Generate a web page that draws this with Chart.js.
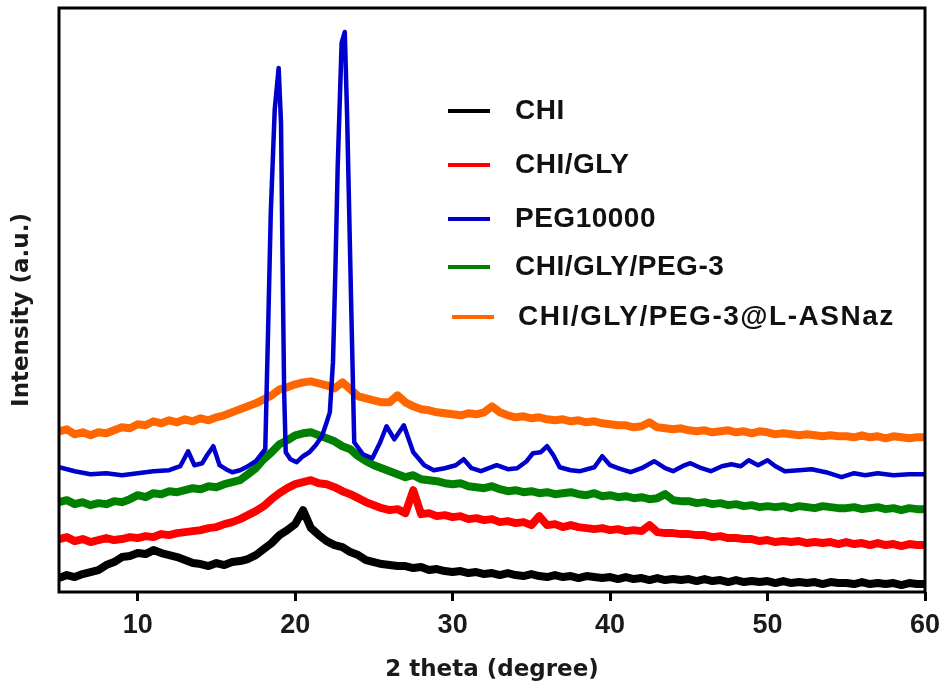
<!DOCTYPE html>
<html>
<head>
<meta charset="utf-8">
<script src="https://cdn.jsdelivr.net/npm/chart.js@4/dist/chart.umd.min.js"></script>
<style>
  html, body { margin: 0; padding: 0; background: #fff; }
  #wrap { width: 946px; height: 691px; }
</style>
</head>
<body>
<div id="wrap"><canvas id="xrd"></canvas></div>
<script>
// 2 theta grid shared by the noisy traces (0.5 degree steps)
const angles = [
  5, 5.5, 6, 6.5, 7, 7.5, 8, 8.5, 9, 9.5,
  10, 10.5, 11, 11.5, 12, 12.5, 13, 13.5, 14, 14.5,
  15, 15.5, 16, 16.5, 17, 17.5, 18, 18.5, 19, 19.5,
  20, 20.5, 21, 21.5, 22, 22.5, 23, 23.5, 24, 24.5,
  25, 25.5, 26, 26.5, 27, 27.5, 28, 28.5, 29, 29.5,
  30, 30.5, 31, 31.5, 32, 32.5, 33, 33.5, 34, 34.5,
  35, 35.5, 36, 36.5, 37, 37.5, 38, 38.5, 39, 39.5,
  40, 40.5, 41, 41.5, 42, 42.5, 43, 43.5, 44, 44.5,
  45, 45.5, 46, 46.5, 47, 47.5, 48, 48.5, 49, 49.5,
  50, 50.5, 51, 51.5, 52, 52.5, 53, 53.5, 54, 54.5,
  55, 55.5, 56, 56.5, 57, 57.5, 58, 58.5, 59, 59.5,
  60
];

// intensities (a.u., curves already offset as in the figure)
const chi = [
  14, 17, 15, 18, 20, 22, 27, 30, 35, 36,
  39, 38, 42, 39, 37, 35, 32, 29, 28, 26,
  29, 27, 30, 31, 33, 37, 43, 49, 57, 62,
  68, 82, 64, 57, 51, 47, 45, 40, 37, 32,
  30, 28, 27, 26, 26, 24, 25, 22, 23, 21,
  20, 21, 19, 20, 18, 19, 17, 19, 17, 16,
  18, 16, 15, 17, 15, 16, 14, 16, 15, 14,
  15, 13, 15, 13, 14, 12, 14, 12, 13, 12,
  13, 11, 13, 11, 12, 10, 12, 10, 11, 10,
  11, 9, 11, 9, 10, 9, 10, 8, 10, 9,
  9, 8, 10, 8, 9, 8, 9, 7, 9, 8,
  8
];

const chiGly = [
  53, 55, 51, 53, 50, 52, 54, 52, 53, 55,
  54, 56, 55, 58, 57, 59, 60, 61, 62, 64,
  65, 68, 70, 73, 77, 81, 86, 93, 99, 104,
  108, 110, 112, 109, 108, 105, 101, 98, 94, 90,
  87, 84, 82, 83, 79, 102, 78, 79, 76, 77,
  75, 76, 73, 74, 72, 73, 70, 71, 69, 70,
  67, 76, 67, 68, 65, 67, 65, 64, 63, 64,
  62, 63, 61, 62, 61, 67, 60, 59, 59, 58,
  58, 57, 57, 55, 56, 54, 54, 53, 53, 51,
  52, 50, 51, 50, 51, 49, 50, 49, 50, 48,
  50, 48, 49, 47, 49, 47, 48, 46, 48, 47,
  47
];

const chiGlyPeg = [
  90, 92, 88, 90, 87, 89, 88, 91, 90, 93,
  97, 95, 99, 98, 101, 100, 102, 104, 103, 106,
  105, 108, 110, 112, 118, 124, 133, 140, 148, 152,
  157, 159, 160, 157, 154, 151, 146, 143, 136, 131,
  127, 124, 121, 118, 115, 117, 113, 112, 111, 109,
  108, 109, 106, 105, 104, 106, 103, 101, 102, 100,
  101, 99, 100, 98, 99, 100, 98, 97, 99, 96,
  97, 95, 96, 94, 95, 93, 94, 98, 92, 91,
  91, 89, 90, 88, 89, 87, 88, 86, 87, 85,
  86, 85, 86, 84, 86, 85, 84, 86, 85, 84,
  84, 85, 83, 84, 85, 83, 84, 82, 84, 83,
  83
];

const asnaz = [
  161, 163, 158, 160, 157, 160, 159, 162, 165, 164,
  168, 167, 171, 169, 172, 170, 173, 171, 174, 172,
  175, 177, 180, 183, 186, 189, 193, 197, 203, 205,
  208, 210, 211, 209, 207, 204, 210, 203, 196, 194,
  192, 190, 190, 197, 190, 186, 183, 182, 180, 179,
  178, 177, 179, 178, 180, 186, 180, 177, 175, 176,
  174, 175, 173, 172, 173, 171, 172, 170, 171, 169,
  168, 167, 167, 165, 166, 170, 165, 164, 163, 164,
  162, 161, 162, 160, 161, 162, 160, 161, 159, 161,
  160, 158, 159, 158, 157, 158, 157, 156, 157, 156,
  156, 155, 157, 155, 156, 154, 156, 155, 154, 155,
  155
];

// PEG10000 has sharp reflections, so it gets its own angle list
const pegAngles = [
  5, 6, 7, 8, 9, 10, 11, 12, 12.7, 13.2,
  13.6, 14.1, 14.4, 14.8, 15.2, 15.6, 16, 16.5, 17, 17.5,
  18.1, 18.2, 18.3, 18.45, 18.7, 18.95, 19.1, 19.2, 19.3, 19.4,
  19.7, 20.1, 20.5, 20.9, 21.3, 21.7, 22, 22.2, 22.4, 22.55,
  22.7, 22.95, 23.15, 23.3, 23.55, 23.75, 24.3, 24.9, 25.4, 25.8,
  26.3, 26.9, 27.5, 28.2, 28.8, 29.5, 30.2, 30.7, 31.2, 31.8,
  32.8, 33.5, 34.1, 34.7, 35.1, 35.6, 36, 36.4, 36.8, 37.5,
  38.1, 39, 39.5, 40, 40.5, 41.3, 42, 42.8, 43.5, 44,
  44.6, 45.1, 45.8, 46.4, 47.1, 47.7, 48.3, 48.8, 49.4, 50,
  50.5, 51.1, 52, 52.8, 53.7, 54.7, 55.5, 56.2, 57, 58,
  59, 60
];
const peg = [
  125, 121, 118, 119, 117, 119, 121, 122, 126, 141,
  127, 129, 137, 146, 127, 123, 120, 122, 126, 131,
  143, 210, 276, 380, 483, 525, 470, 330, 200, 140,
  133, 130, 136, 140, 147, 156, 170, 180, 230, 320,
  426, 550, 561, 476, 293, 150, 138, 134, 150, 166,
  153, 167, 140, 127, 122, 124, 127, 133, 124, 121,
  127, 123, 124, 131, 139, 140, 146, 137, 125, 122,
  121, 125, 136, 127, 124, 120, 124, 131, 124, 121,
  126, 129, 124, 121, 126, 128, 126, 132, 127, 132,
  126, 121, 122, 123, 120, 115, 119, 117, 119, 117,
  118, 118
];

const seriesNames = ['CHI', 'CHI/GLY', 'PEG10000', 'CHI/GLY/PEG-3', 'CHI/GLY/PEG-3@L-ASNaz'];
const xTicks = [10, 20, 30, 40, 50, 60];
const yTitle = 'Intensity (a.u.)';

const pts = (xs, ys) => xs.map((x, i) => ({x: x, y: ys[i]}));

const boldTitle = {family: '"DejaVu Sans", sans-serif', size: 23, weight: 'bold'};

// box round the plot area, plus the rotated y title
const frame = {
  id: 'frame',
  afterDatasetsDraw(chart) {
    const {ctx, chartArea: a} = chart;
    ctx.save();
    ctx.strokeStyle = '#000';
    ctx.lineWidth = 3;
    ctx.strokeRect(a.left, a.top, a.right - a.left, a.bottom - a.top);
    ctx.translate(22, 310);
    ctx.rotate(-Math.PI / 2);
    ctx.font = 'bold 23px "DejaVu Sans", sans-serif';
    ctx.fillStyle = '#1a1a1a';
    ctx.textAlign = 'center';
    ctx.textBaseline = 'middle';
    ctx.fillText(yTitle, 0, 0);
    ctx.restore();
  }
};

// legend sits inside the plot, drawn by hand
const insideLegend = {
  id: 'insideLegend',
  afterDraw(chart) {
    const ctx = chart.ctx;
    const rows = [111, 165, 219, 267, 317];
    ctx.save();
    ctx.font = 'bold 28px "Liberation Sans", Arial, sans-serif';
    ctx.textBaseline = 'middle';
    chart.data.datasets.forEach((ds, i) => {
      const y = rows[i];
      const x0 = i === 4 ? 452 : 448;
      ctx.strokeStyle = ds.borderColor;
      ctx.lineWidth = 4;
      ctx.beginPath();
      ctx.moveTo(x0, y);
      ctx.lineTo(x0 + 42, y);
      ctx.stroke();
      ctx.fillStyle = '#111';
      ctx.letterSpacing = i === 4 ? '1.5px' : '0.5px';
      ctx.fillText(ds.label, i === 4 ? 518 : 515, y);
    });
    ctx.restore();
  }
};

const noisy = {borderWidth: 8, borderJoinStyle: 'round', order: 1};

new Chart(document.getElementById('xrd'), {
  type: 'line',
  data: {
    datasets: [
      {label: seriesNames[0], data: pts(angles, chi), borderColor: '#000000', ...noisy},
      {label: seriesNames[1], data: pts(angles, chiGly), borderColor: '#ff0000', ...noisy},
      {label: seriesNames[2], data: pts(pegAngles, peg), borderColor: '#0000cc', borderWidth: 4.5, borderJoinStyle: 'round', order: 0},
      {label: seriesNames[3], data: pts(angles, chiGlyPeg), borderColor: '#008000', ...noisy},
      {label: seriesNames[4], data: pts(angles, asnaz), borderColor: '#ff6600', ...noisy}
    ]
  },
  options: {
    responsive: true,
    maintainAspectRatio: false,
    animation: false,
    layout: {padding: {top: 8, right: 21, left: 0, bottom: 0}},
    elements: {point: {radius: 0}, line: {tension: 0}},
    plugins: {legend: {display: false}, tooltip: {enabled: false}},
    scales: {
      x: {
        type: 'linear',
        min: 5,
        max: 60,
        afterBuildTicks: axis => { axis.ticks = xTicks.map(v => ({value: v})); },
        afterFit: axis => { axis.height = 99; axis.paddingLeft = 0; axis.paddingRight = 0; },
        border: {display: false},
        grid: {drawOnChartArea: false, drawTicks: true, tickLength: 9, tickWidth: 3, color: '#000'},
        ticks: {
          color: '#1a1a1a',
          padding: 8,
          maxRotation: 0,
          font: {family: '"Liberation Sans", Arial, sans-serif', size: 27, weight: 'bold'}
        },
        title: {display: true, text: '2 theta (degree)', color: '#1a1a1a', font: boldTitle, padding: {top: 0, bottom: 7}}
      },
      y: {
        min: 0,
        max: 585,
        afterFit: axis => { axis.width = 59; },
        border: {display: false},
        grid: {display: false},
        ticks: {display: false},
        title: {display: false}
      }
    }
  },
  plugins: [frame, insideLegend]
});
</script>
</body>
</html>
